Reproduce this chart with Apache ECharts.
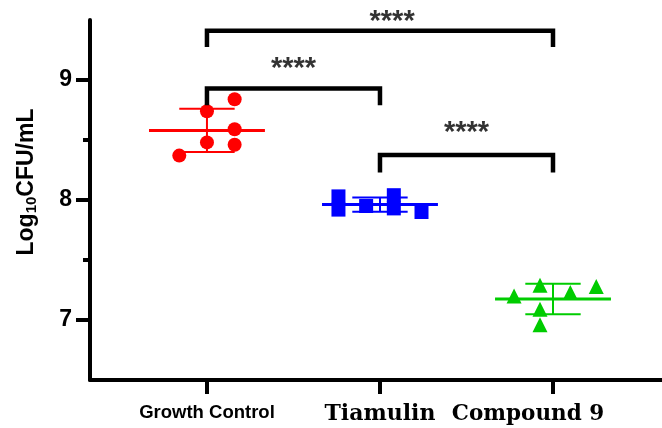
<!DOCTYPE html>
<html>
<head>
<meta charset="utf-8">
<script src="https://cdn.jsdelivr.net/npm/echarts@6/dist/echarts.min.js"></script>
<style>
  html, body { margin: 0; padding: 0; background: #ffffff; }
  #chart { width: 662px; height: 428px; }
</style>
</head>
<body>
<div id="chart"></div>
<script>
// Groups on the x axis (plotted at positions 0, 1, 2)
const groups = ['Growth Control', 'Tiamulin', 'Compound 9'];
const groupColors = ['#ff0000', '#0000ff', '#00cc00'];
const groupSymbols = ['circle', 'rect', 'triangle'];

// Individual replicates: horizontal jitter within the column, and log10 CFU/mL
const controlJitter = [-0.16, 0, 0, 0.16, 0.16, 0.16];
const controlValues = [8.37, 8.74, 8.48, 8.84, 8.59, 8.46];
const tiamulinJitter = [-0.24, -0.24, -0.08, 0.08, 0.08, 0.24];
const tiamulinValues = [8.03, 7.92, 7.95, 8.04, 7.93, 7.90];
const compoundJitter = [-0.225, -0.075, -0.075, -0.075, 0.1, 0.25];
const compoundValues = [7.20, 7.29, 7.09, 6.96, 7.23, 7.28];

// Y axis ticks
const majorTicks = [7, 8, 9];
const minorTicks = [7.5, 8.5];

// Significance brackets: [from group, to group], bar level, drop of the ends
const bracketPairs = [[0, 2], [0, 1], [1, 2]];
const bracketLevels = [9.41, 8.93, 8.375];
const bracketDrop = [0.135, 0.14, 0.145];
const starLabels = ['****', '****', '****'];
const starX = [1.07, 0.5, 1.5];
const starY = [9.48, 9.09, 8.555];

const jitters = [controlJitter, tiamulinJitter, compoundJitter];
const values = [controlValues, tiamulinValues, compoundValues];

function mean(a) { return a.reduce((s, v) => s + v, 0) / a.length; }
function sd(a) {
  const m = mean(a);
  return Math.sqrt(a.reduce((s, v) => s + (v - m) * (v - m), 0) / (a.length - 1));
}

const meanHalf = 0.335;
const capHalf = 0.16;

const series = [];

function segment(points, color, width, z) {
  series.push({
    type: 'line',
    data: points,
    symbol: 'none',
    silent: true,
    animation: false,
    clip: false,
    z: z,
    lineStyle: { color: color, width: width, cap: 'butt', join: 'miter' }
  });
}

// Mean +/- SD for each group
groups.forEach((g, i) => {
  const m = mean(values[i]);
  const s = sd(values[i]);
  const c = groupColors[i];
  segment([[i - meanHalf, m], [i + meanHalf, m]], c, 3, 2);
  segment([[i - capHalf, m + s], [i + capHalf, m + s]], c, 2, 2);
  segment([[i - capHalf, m - s], [i + capHalf, m - s]], c, 2, 2);
  segment([[i, m - s], [i, m + s]], c, 2, 2);
});

// Replicate points
groups.forEach((g, i) => {
  series.push({
    type: 'scatter',
    name: g,
    data: values[i].map((v, k) => [i + jitters[i][k], v]),
    symbol: groupSymbols[i],
    symbolSize: groupSymbols[i] === 'triangle' ? 15 : 14,
    itemStyle: { color: groupColors[i], opacity: 1 },
    animation: false,
    z: 3
  });
});

// Brackets
bracketPairs.forEach((p, i) => {
  const top = bracketLevels[i];
  const low = top - bracketDrop[i];
  segment([[p[0], low], [p[0], top], [p[1], top], [p[1], low]], '#000000', 4.5, 4);
});

// Star annotations above the brackets
series.push({
  type: 'scatter',
  data: starX.map((x, i) => [x, starY[i]]),
  symbolSize: 0,
  clip: false,
  silent: true,
  animation: false,
  z: 5,
  label: {
    show: true,
    position: 'inside',
    formatter: (p) => starLabels[p.dataIndex],
    color: '#000000',
    fontFamily: 'Liberation Sans',
    fontSize: 29,
    fontWeight: 'bold'
  }
});

const axisBlack = { color: '#000000', width: 4 };

const option = {
  backgroundColor: '#ffffff',
  animation: false,
  grid: { left: 90, right: 0, top: 20, bottom: 48, containLabel: false },
  xAxis: {
    type: 'value',
    min: -0.676,
    max: 2.63,
    splitLine: { show: false },
    axisLine: { show: true, onZero: false, lineStyle: axisBlack },
    axisTick: { show: true, customValues: [0, 1, 2], length: 14, lineStyle: axisBlack },
    axisLabel: {
      customValues: [0, 1, 2],
      margin: 23,
      formatter: (v) => {
        const i = Math.round(v);
        if (i === 0) return '{sans|' + groups[i] + '}';
        if (i === 2) return '{serifShift|' + groups[i] + '}';
        return '{serif|' + groups[i] + '}';
      },
      rich: {
        sans: { fontFamily: 'Liberation Sans', fontWeight: 'bold', fontSize: 18.5, color: '#000' },
        serif: { fontFamily: 'DejaVu Serif', fontWeight: 'bold', fontSize: 22, color: '#000' },
        serifShift: { fontFamily: 'DejaVu Serif', fontWeight: 'bold', fontSize: 21.5, color: '#000', padding: [0, 50, 0, 0] }
      }
    }
  },
  yAxis: [
    {
      type: 'value',
      min: 6.5,
      max: 9.5,
      position: 'left',
      splitLine: { show: false },
      axisLine: { show: true, onZero: false, lineStyle: axisBlack },
      axisTick: { show: true, customValues: majorTicks, length: 14, lineStyle: axisBlack },
      axisLabel: {
        customValues: majorTicks,
        margin: 18,
        fontFamily: 'Liberation Sans',
        fontWeight: 'bold',
        fontSize: 23,
        color: '#000'
      },
      name: '{a|Log}{b|10}{a|CFU/mL}',
      nameLocation: 'middle',
      nameRotate: 90,
      nameGap: 49,
      nameTextStyle: {
        padding: [0, 0, 0, 36],
        rich: {
          a: { fontFamily: 'Liberation Sans', fontWeight: 'bold', fontSize: 23, color: '#000', lineHeight: 28 },
          b: { fontFamily: 'Liberation Sans', fontWeight: 'bold', fontSize: 15, color: '#000', lineHeight: 28, padding: [10, 0, 0, 0] }
        }
      }
    },
    {
      type: 'value',
      min: 6.5,
      max: 9.5,
      position: 'left',
      offset: 0,
      splitLine: { show: false },
      axisLine: { show: false, onZero: false },
      axisTick: { show: true, customValues: minorTicks, length: 7, lineStyle: axisBlack },
      axisLabel: { show: false }
    }
  ],
  series: series
};

const chart = echarts.init(document.getElementById('chart'), null, { renderer: 'canvas' });
chart.setOption(option);
</script>
</body>
</html>
